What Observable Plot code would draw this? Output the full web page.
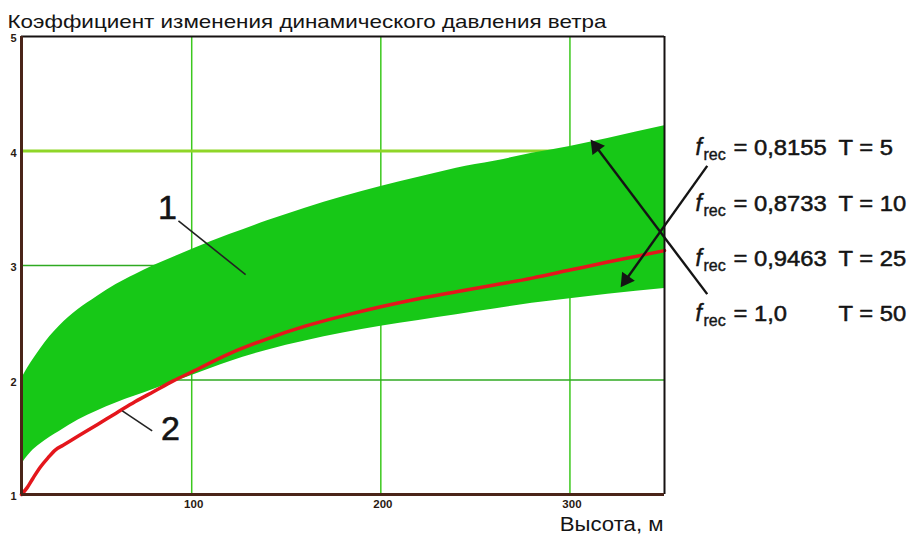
<!DOCTYPE html>
<html><head><meta charset="utf-8">
<script src="https://cdn.jsdelivr.net/npm/d3@7"></script>
<script src="https://cdn.jsdelivr.net/npm/@observablehq/plot@0.6"></script>
<style>
html,body{margin:0;padding:0;background:#fff;}
#chart{width:912px;height:535px;overflow:hidden;}
</style>
</head><body><div id="chart"></div>
<script>
// ---- data ----
const titleText = "Коэффициент изменения динамического давления ветра";
const xLabelText = "Высота, м";
const bandHeights = [10,12,15,20,25,30,40,50,60,70,80,90,100,120,140,160,180,200,220,240,260,280,300,320,350];
const bandUpper  = [2.01,2.07,2.15,2.27,2.38,2.47,2.615,2.73,2.835,2.92,3.00,3.07,3.14,3.27,3.39,3.50,3.60,3.69,3.77,3.85,3.91,3.98,4.04,4.11,4.22];
const bandLower  = [1.26,1.31,1.37,1.44,1.50,1.55,1.65,1.73,1.80,1.86,1.92,1.98,2.04,2.16,2.26,2.34,2.41,2.47,2.52,2.57,2.62,2.67,2.71,2.75,2.80];
const redHeights = [10,13,16,20,24,28,32,40,50,60,70,80,90,100,120,140,160,180,200,220,240,260,280,300,320,350];
const redValues  = [1.00,1.06,1.14,1.24,1.32,1.39,1.43,1.51,1.61,1.71,1.81,1.90,1.99,2.07,2.23,2.36,2.47,2.56,2.64,2.71,2.77,2.83,2.89,2.96,3.03,3.13];
const xTicks = [100,200,300];
const yTicks = [1,2,3,4,5];
const gridX = [100,200,300];
const gridY = [2,3];
const gridYHighlight = [4];
const fRecValues = ["0,8155","0,8733","0,9463","1,0"];
const periodValues = [5,10,25,50];
const labelRowsY = [3.968,3.479,2.998,2.517];   // baseline level of each legend row (y units)
const curveLabels = ["1","2"];
const curveLabelX = [87.2,88.8];
const curveLabelY = [3.50,1.57];
const leaderX1 = [93,63.3], leaderY1 = [3.39,1.73], leaderX2 = [128.5,79.1], leaderY2 = [2.92,1.555];
const arrowX1 = [372.6,372.6], arrowY1 = [2.75,3.87], arrowX2 = [310.9,326.8], arrowY2 = [4.10,2.81];

// ---- layout ----
const W = 912, H = 535, mL = 21, mR = 248, mT = 36, mB = 41;
const xDom = [10,350], yDom = [1,5];
const kx = (W - mL - mR) / (xDom[1] - xDom[0]);
const ky = (H - mT - mB) / (yDom[1] - yDom[0]);
const font = "Arial, 'Liberation Sans', Helvetica, sans-serif";
const ink = "#141414";

const band = bandHeights.map((h,i) => ({h, lo: bandLower[i], hi: bandUpper[i]}));
const red = redHeights.map((h,i) => ({h, v: redValues[i]}));
const rows = fRecValues.map((f,i) => ({f, T: periodValues[i], y: labelRowsY[i]}));
const labels = curveLabels.map((t,i) => ({t, x: curveLabelX[i], y: curveLabelY[i]}));
const leaders = leaderX1.map((x1,i) => ({x1, y1: leaderY1[i], x2: leaderX2[i], y2: leaderY2[i]}));
const headR = 5.8;
const tipDist = 2 * Math.sqrt(Math.PI * headR * headR / (3 * Math.sqrt(3)));
const arrows = arrowX1.map((x1,i) => {
  const x2 = arrowX2[i], y1 = arrowY1[i], y2 = arrowY2[i];
  const pdx = (x2 - x1) * kx, pdy = -(y2 - y1) * ky;
  const len = Math.hypot(pdx, pdy), ux = pdx/len, uy = pdy/len;
  return {x1, y1, x2, y2,
    hx: x2 - ux * tipDist / kx, hy: y2 + uy * tipDist / ky,
    lx: x2 - ux * (tipDist+2) / kx, ly: y2 + uy * (tipDist+2) / ky,
    rot: Math.atan2(ux, -uy) * 180 / Math.PI};
});

const plot = Plot.plot({
  width: W, height: H,
  marginTop: mT, marginLeft: mL, marginRight: mR, marginBottom: mB,
  x: {domain: xDom, axis: null},
  y: {domain: yDom, axis: null},
  style: {fontFamily: font, background: "#fff", overflow: "visible", color: ink},
  marks: [
    Plot.ruleX(gridX, {stroke: "#3cc81e", strokeWidth: 1.5}),
    Plot.ruleY(gridY, {stroke: "#2faa22", strokeWidth: 1.5}),
    Plot.ruleY(gridYHighlight, {stroke: "#8fd628", strokeWidth: 3}),
    Plot.areaY(band, {x: "h", y1: "lo", y2: "hi", fill: "#17c817", curve: "monotone-x"}),
    Plot.line(red, {x: "h", y: "v", stroke: "#e4161c", strokeWidth: 3.5, curve: "monotone-x"}),
    // frame
    Plot.ruleY([yDom[1]], {stroke: "#161212", strokeWidth: 2}),
    Plot.ruleX([xDom[1]], {stroke: "#161212", strokeWidth: 2}),
    Plot.ruleX([xDom[0]], {stroke: "#4a2418", strokeWidth: 3}),
    Plot.ruleY([yDom[0]], {stroke: "#4a2418", strokeWidth: 3}),
    // axes
    Plot.axisX(xTicks, {tickSize: 0, tickPadding: 5, fontSize: 11.5, fontWeight: "bold", fill: "#2a1a12", dx: 2, tickFormat: d => String(d)}),
    Plot.axisY(yTicks, {tickSize: 0, tickPadding: 5, fontSize: 11, fontWeight: "bold", fill: "#2a1a12", dy: 2, tickFormat: d => String(d)}),
    // title and axis label
    Plot.text([titleText], {text: d => d, frameAnchor: "top-left", textAnchor: "start", lineAnchor: "bottom", dx: -14, dy: -9, fontSize: 19, fill: ink}),
    Plot.text([xLabelText], {text: d => d, frameAnchor: "bottom-right", textAnchor: "end", lineAnchor: "bottom", dx: -1, dy: 36, fontSize: 20, fill: ink}),
    // curve labels
    Plot.link(leaders, {x1: "x1", y1: "y1", x2: "x2", y2: "y2", stroke: "#222", strokeWidth: 1.6}),
    Plot.text(labels, {x: "x", y: "y", text: "t", fontSize: 34, lineAnchor: "middle", fill: ink, stroke: ink, strokeWidth: 0.6}),
    // arrows
    Plot.link(arrows, {x1: "x1", y1: "y1", x2: "lx", y2: "ly", stroke: ink, strokeWidth: 2.4}),
    Plot.dot(arrows, {x: "hx", y: "hy", r: headR, symbol: "triangle", rotate: "rot", fill: ink, stroke: "none"}),
    // legend rows
    Plot.text(rows, {y: "y", text: () => "f", frameAnchor: "right", textAnchor: "start", lineAnchor: "bottom", dx: 31, fontSize: 23, fontStyle: "italic", fill: ink, stroke: ink, strokeWidth: 0.5}),
    Plot.text(rows, {y: "y", text: () => "rec", frameAnchor: "right", textAnchor: "start", lineAnchor: "bottom", dx: 39, dy: 5, fontSize: 16, fill: ink, stroke: ink, strokeWidth: 0.4}),
    Plot.text(rows, {y: "y", text: d => "= " + d.f, frameAnchor: "right", textAnchor: "start", lineAnchor: "bottom", dx: 69, fontSize: 22, fill: ink, stroke: ink, strokeWidth: 0.5}),
    Plot.text(rows, {y: "y", text: d => "T = " + d.T, frameAnchor: "right", textAnchor: "start", lineAnchor: "bottom", dx: 174, fontSize: 22, fill: ink, stroke: ink, strokeWidth: 0.5})
  ]
});
document.getElementById("chart").appendChild(plot);

// horizontal stretch of texts to match the scanned lettering width
function stretch(filterFn, factor) {
  d3.select(plot).selectAll("text").filter(function() { return filterFn(this.textContent); })
    .each(function() {
      const L = this.getComputedTextLength();
      this.setAttribute("textLength", (L * factor).toFixed(1));
      this.setAttribute("lengthAdjust", "spacingAndGlyphs");
    });
}
stretch(t => t === titleText, 1.18);
stretch(t => t === xLabelText, 1.11);
stretch(t => t.startsWith("= ") || t.startsWith("T = "), 1.08);
</script>
</body></html>
